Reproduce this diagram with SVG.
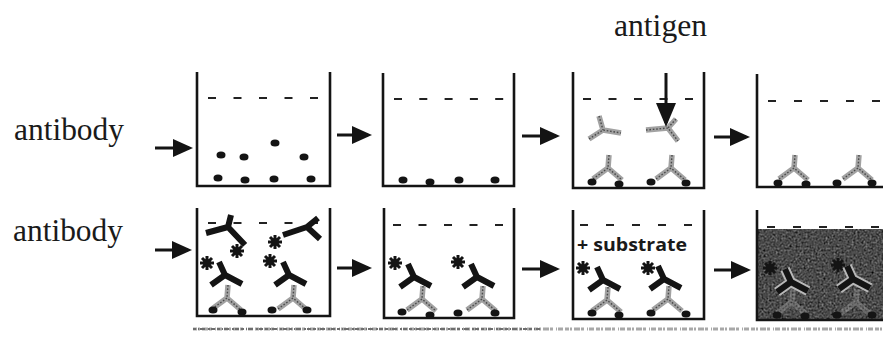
<svg xmlns="http://www.w3.org/2000/svg" xmlns:xlink="http://www.w3.org/1999/xlink" width="883" height="341" viewBox="0 0 883 341">
  <style>
    .wall { fill: none; stroke: #141414; stroke-width: 2.6; stroke-linejoin: miter; }
    .dash { fill: none; stroke: #222; stroke-width: 2; }
    .dot { fill: #141414; }
    .label { font-family: "Liberation Serif", "Times New Roman", serif; font-size: 31.5px; fill: #1a1a1a; }
    .sub { font-family: "Open Sans", "DejaVu Sans", sans-serif; font-weight: bold; font-size: 18.5px; fill: #1a1a1a; }
    .conn line { stroke: #141414; stroke-width: 3; }
    .cap { fill: none; stroke: #a2a2a2; stroke-width: 5.5; stroke-linecap: butt; stroke-linejoin: round; }
    .capt { fill: none; stroke: #4a4a4a; stroke-width: 1.4; stroke-dasharray: 1.6 1.8; }
    .det { fill: none; stroke: #141414; stroke-width: 6; stroke-linecap: butt; stroke-linejoin: round; }
    .halo { fill: none; stroke: #b8b8b8; stroke-width: 10; stroke-linejoin: round; }
  </style>
  <defs>
    <marker id="head" viewBox="0 0 20 18" markerWidth="20" markerHeight="18" refX="16" refY="9" orient="auto" markerUnits="userSpaceOnUse">
      <path d="M0,0 L20,9 L0,18 Z" fill="#141414"/>
    </marker>
    <marker id="headL" viewBox="0 0 24 20" markerWidth="24" markerHeight="20" refX="20" refY="10" orient="auto" markerUnits="userSpaceOnUse">
      <path d="M0,0 L24,10 L0,20 Z" fill="#141414"/>
    </marker>
    <!-- enzyme label -->
    <g id="star">
      <path d="M-7,0H7M0,-7V7M-5,-5L5,5M-5,5L5,-5" stroke="#141414" stroke-width="3"/>
      <circle r="3.8" fill="#141414"/>
    </g>
    <!-- capture antibody: stem up, arms down -->
    <g id="capAb">
      <path class="cap" d="M1,-13 L0,0 M-15,11 L0,0 L14,12"/>
      <path class="capt" d="M1,-13 L0,0 M-15,11 L0,0 L14,12"/>
    </g>
    <!-- bound detection antibody -->
    <g id="detAb">
      <path class="det" d="M-6,-13 L0,0 M-14,10 L0,0 L17,9"/>
    </g>
    <g id="detHalo">
      <path class="halo" d="M-6,-13 L0,0 M-14,10 L0,0 L17,9"/>
      <path class="det" d="M-6,-13 L0,0 M-14,10 L0,0 L17,9"/>
    </g>
    <!-- coloured product: dark mottled grain -->
    <filter id="grain" x="0" y="0" width="100%" height="100%" color-interpolation-filters="sRGB">
      <feTurbulence type="fractalNoise" baseFrequency="0.5" numOctaves="3" seed="7"/>
      <feColorMatrix type="matrix" values="0.34 0.34 0.34 0 -0.22  0.34 0.34 0.34 0 -0.22  0.34 0.34 0.34 0 -0.22  0 0 0 0 1"/>
      <feComposite in2="SourceGraphic" operator="in"/>
    </filter>
  </defs>

  <rect width="883" height="341" fill="#ffffff"/>

  <!-- labels -->
  <text class="label" x="14" y="140" textLength="110" lengthAdjust="spacingAndGlyphs">antibody</text>
  <text class="label" x="13" y="241" textLength="110" lengthAdjust="spacingAndGlyphs">antibody</text>
  <text class="label" x="614" y="36" textLength="93" lengthAdjust="spacingAndGlyphs">antigen</text>

  <!-- top row -->
  <g id="well-t1">
    <path class="wall" d="M197,72 V186 H330 V72"/>
    <line class="dash" x1="208" y1="98" x2="320" y2="98" stroke-dasharray="8 17.5"/>
    <ellipse class="dot" cx="221" cy="155" rx="4.5" ry="3.5"/>
    <ellipse class="dot" cx="244" cy="157" rx="4.5" ry="3.5"/>
    <ellipse class="dot" cx="275" cy="143" rx="4.5" ry="3.5"/>
    <ellipse class="dot" cx="304" cy="157" rx="4.5" ry="3.5"/>
    <ellipse class="dot" cx="218" cy="178" rx="4.5" ry="3.5"/>
    <ellipse class="dot" cx="245" cy="180" rx="4.5" ry="3.5"/>
    <ellipse class="dot" cx="274" cy="179" rx="4.5" ry="3.5"/>
    <ellipse class="dot" cx="311" cy="179" rx="4.5" ry="3.5"/>
  </g>

  <g id="well-t2">
    <path class="wall" d="M383,73 V186 H514 V73"/>
    <line class="dash" x1="394" y1="99" x2="505" y2="99" stroke-dasharray="8 17.3"/>
    <ellipse class="dot" cx="403" cy="180" rx="4.5" ry="3.5"/>
    <ellipse class="dot" cx="430" cy="182" rx="4.5" ry="3.5"/>
    <ellipse class="dot" cx="459" cy="180" rx="4.5" ry="3.5"/>
    <ellipse class="dot" cx="495" cy="180" rx="4.5" ry="3.5"/>
  </g>

  <g id="well-t3">
    <path class="wall" d="M573,72 V188 H704 V72"/>
    <line class="dash" x1="583" y1="99" x2="695" y2="99" stroke-dasharray="8 17.5"/>
    <!-- free antibodies with antigen -->
    <path class="cap" d="M599,116 L603,130 M589,139 L603,130 L621,133"/>
    <path class="capt" d="M599,116 L603,130 M589,139 L603,130 L621,133"/>
    <path class="cap" d="M676,119 L668,128 M646,130 L668,128 L678,141"/>
    <path class="capt" d="M676,119 L668,128 M646,130 L668,128 L678,141"/>
    <use href="#capAb" x="608" y="168"/>
    <use href="#capAb" x="671" y="168"/>
    <ellipse class="dot" cx="592" cy="182" rx="4.5" ry="3.5"/>
    <ellipse class="dot" cx="619" cy="184" rx="4.5" ry="3.5"/>
    <ellipse class="dot" cx="651" cy="182" rx="4.5" ry="3.5"/>
    <ellipse class="dot" cx="686" cy="183" rx="4.5" ry="3.5"/>
  </g>

  <g id="well-t4">
    <path class="wall" d="M757,74 V187 H883"/>
    <line class="dash" x1="768" y1="101" x2="883" y2="101" stroke-dasharray="8 18"/>
    <use href="#capAb" x="794" y="168"/>
    <use href="#capAb" x="858" y="168"/>
    <ellipse class="dot" cx="778" cy="183" rx="4.5" ry="3.5"/>
    <ellipse class="dot" cx="806" cy="184" rx="4.5" ry="3.5"/>
    <ellipse class="dot" cx="837" cy="183" rx="4.5" ry="3.5"/>
    <ellipse class="dot" cx="872" cy="183" rx="4.5" ry="3.5"/>
  </g>

  <!-- bottom row -->
  <g id="well-b1">
    <path class="wall" d="M197,208 V316 H330 V208"/>
    <line class="dash" x1="208" y1="223" x2="320" y2="223" stroke-dasharray="8 17.5"/>
    <path class="det" d="M206,233 L228,227 L231,215 M228,227 L245,245"/>
    <path class="det" d="M283,235 L307,227 L318,218 M307,227 L320,239"/>
    <use href="#star" x="237" y="251"/>
    <use href="#star" x="275" y="242"/>
    <use href="#star" x="207" y="263"/>
    <use href="#star" x="270" y="261"/>
    <use href="#detAb" x="225" y="275"/>
    <use href="#detAb" x="289" y="275"/>
    <use href="#capAb" x="227" y="298"/>
    <use href="#capAb" x="293" y="298"/>
    <ellipse class="dot" cx="213" cy="310" rx="4.5" ry="3.5"/>
    <ellipse class="dot" cx="242" cy="312" rx="4.5" ry="3.5"/>
    <ellipse class="dot" cx="272" cy="310" rx="4.5" ry="3.5"/>
    <ellipse class="dot" cx="307" cy="310" rx="4.5" ry="3.5"/>
  </g>

  <g id="well-b2">
    <path class="wall" d="M384,208 V318 H514 V208"/>
    <line class="dash" x1="393" y1="225" x2="505" y2="225" stroke-dasharray="8 17.5"/>
    <use href="#star" x="395" y="263"/>
    <use href="#star" x="458" y="262"/>
    <use href="#detAb" x="414" y="277"/>
    <use href="#detAb" x="477" y="277"/>
    <use href="#capAb" x="422" y="299"/>
    <use href="#capAb" x="482" y="299"/>
    <ellipse class="dot" cx="402" cy="312" rx="4.5" ry="3.5"/>
    <ellipse class="dot" cx="430" cy="315" rx="4.5" ry="3.5"/>
    <ellipse class="dot" cx="458" cy="313" rx="4.5" ry="3.5"/>
    <ellipse class="dot" cx="495" cy="313" rx="4.5" ry="3.5"/>
  </g>

  <g id="well-b3">
    <path class="wall" d="M573,210 V319 H704 V210"/>
    <line class="dash" x1="580" y1="225" x2="695" y2="225" stroke-dasharray="8 18"/>
    <text class="sub" x="577" y="251" textLength="110" lengthAdjust="spacingAndGlyphs">+ substrate</text>
    <use href="#star" x="583" y="268"/>
    <use href="#star" x="648" y="268"/>
    <use href="#detAb" x="603" y="280"/>
    <use href="#detAb" x="664" y="279"/>
    <use href="#capAb" x="607" y="300"/>
    <use href="#capAb" x="668" y="299"/>
    <ellipse class="dot" cx="592" cy="313" rx="4.5" ry="3.5"/>
    <ellipse class="dot" cx="619" cy="315" rx="4.5" ry="3.5"/>
    <ellipse class="dot" cx="651" cy="313" rx="4.5" ry="3.5"/>
    <ellipse class="dot" cx="686" cy="314" rx="4.5" ry="3.5"/>
  </g>

  <g id="well-b4">
    <rect x="757" y="229" width="126" height="91" fill="#ffffff" filter="url(#grain)"/>
    <path class="wall" d="M757,210 V320 H883"/>
    <line class="dash" x1="767" y1="227" x2="883" y2="227" stroke-dasharray="8 18"/>
    <g opacity="0.4">
      <use href="#capAb" x="792" y="302"/>
      <use href="#capAb" x="856" y="302"/>
    </g>
    <use href="#star" x="770" y="268"/>
    <use href="#star" x="838" y="265"/>
    <use href="#detHalo" x="791" y="282"/>
    <use href="#detHalo" x="853" y="279"/>
    <ellipse class="dot" cx="777" cy="315" rx="4.5" ry="3.5"/>
    <ellipse class="dot" cx="805" cy="316" rx="4.5" ry="3.5"/>
    <ellipse class="dot" cx="837" cy="315" rx="4.5" ry="3.5"/>
    <ellipse class="dot" cx="872" cy="315" rx="4.5" ry="3.5"/>
  </g>

  <!-- speckled rule under the bottom row -->
  <g id="rule">
    <line x1="193" y1="329" x2="883" y2="329" stroke="#a8a8a8" stroke-width="3" stroke-dasharray="4 1 2 2 6 1 3 3 1 1 5 2"/>
    <line x1="193" y1="329" x2="540" y2="329" stroke="#6e6e6e" stroke-width="2.2" stroke-dasharray="3 2 1 1 5 3 2 1 4 2"/>
  </g>

  <!-- connectors -->
  <g class="conn" id="connectors">
    <line x1="155" y1="148" x2="189" y2="148" marker-end="url(#head)"/>
    <line x1="337" y1="135" x2="368" y2="135" marker-end="url(#head)"/>
    <line x1="522" y1="136" x2="556" y2="136" marker-end="url(#head)"/>
    <line x1="714" y1="137" x2="746" y2="137" marker-end="url(#head)"/>
    <line x1="155" y1="250" x2="188" y2="250" marker-end="url(#head)"/>
    <line x1="337" y1="268" x2="368" y2="268" marker-end="url(#head)"/>
    <line x1="522" y1="269" x2="556" y2="269" marker-end="url(#head)"/>
    <line x1="714" y1="270" x2="747" y2="270" marker-end="url(#head)"/>
    <line x1="666" y1="73" x2="666" y2="123" marker-end="url(#headL)"/>
  </g>
</svg>
